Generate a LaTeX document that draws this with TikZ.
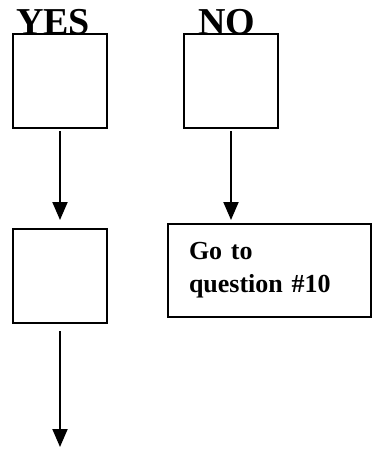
\documentclass[tikz,border=0pt]{standalone}
\usepackage{fontspec}
\setmainfont{Liberation Serif}
\usetikzlibrary{arrows.meta}
\begin{document}
\begin{tikzpicture}[x=1pt,y=-1pt,
  box/.style={draw, line width=2pt, minimum width=94pt, minimum height=94pt, inner sep=0pt},
  arr/.style={line width=2pt, -{Triangle[width=15pt,length=18pt]}},
  head/.style={font=\fontsize{38}{40}\selectfont\bfseries, inner sep=0pt, anchor=base},
  note/.style={draw, line width=2pt, minimum height=93pt, text width=161pt, inner xsep=21pt,
    align=left, font=\fontsize{26}{33}\selectfont\bfseries}]
  \useasboundingbox (0,0) rectangle (374,451);
  % two answer columns
  \node[box] (b1) at (60,81) {};
  \node[box] (b2) at (231,81) {};
  \node[head] (yes) at (53,34) {YES};
  \node[head] (no) at (227,34) {NO};
  \node[box] (b3) at (60,276) {};
  \node[note] (b4) at (269.5,270.5) {Go to\\question \#10};
  \coordinate (end) at (60,447);
  % connectors
  \draw[arr, shorten <=2pt, shorten >=8pt] (b1.south) -- (b3.north);
  \draw[arr, shorten <=2pt, shorten >=3pt] (b2.south) -- (b2.south |- b4.north);
  \draw[arr, shorten <=7pt] (b3.south) -- (end);
\end{tikzpicture}
\end{document}
